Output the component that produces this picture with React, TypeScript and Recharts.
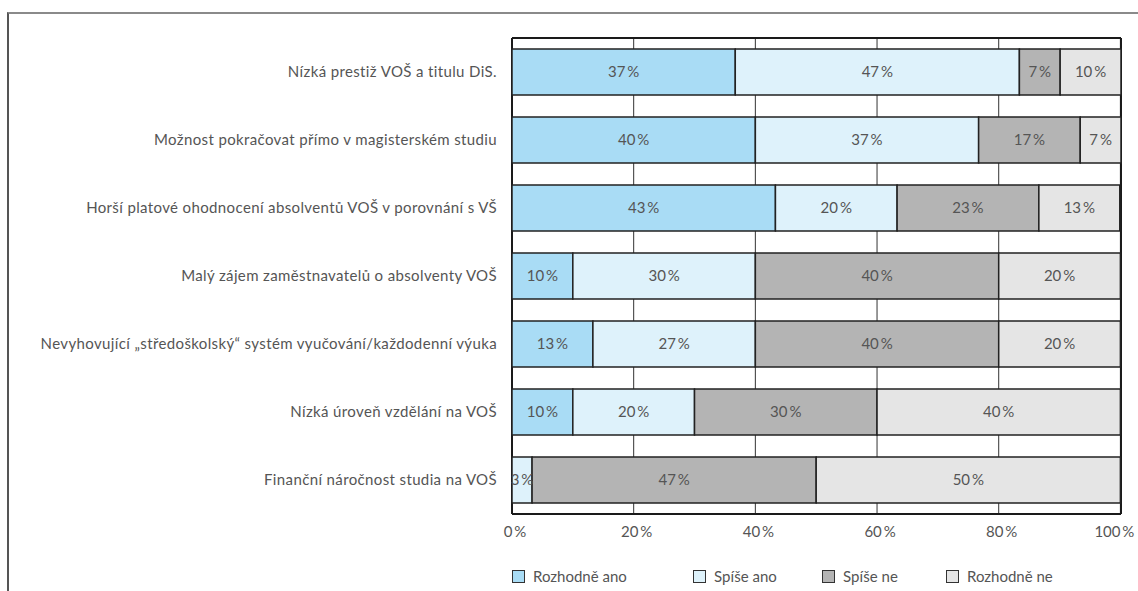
import {
  BarChart,
  Bar,
  XAxis,
  YAxis,
  CartesianGrid,
  LabelList,
  Legend,
} from "recharts";

// survey answers, percent of respondents
const categories = [
  "Nízká prestiž VOŠ a titulu DiS.",
  "Možnost pokračovat přímo v magisterském studiu",
  "Horší platové ohodnocení absolventů VOŠ v porovnání s VŠ",
  "Malý zájem zaměstnavatelů o absolventy VOŠ",
  "Nevyhovující „středoškolský“ systém vyučování/každodenní výuka",
  "Nízká úroveň vzdělání na VOŠ",
  "Finanční náročnost studia na VOŠ",
];

const rozhodneAno = [36.7, 40, 43.3, 10, 13.3, 10, 0];
const spiseAno = [46.7, 36.7, 20, 30, 26.7, 20, 3.3];
const spiseNe = [6.7, 16.7, 23.3, 40, 40, 30, 46.7];
const rozhodneNe = [10, 6.7, 13.3, 20, 20, 40, 50];

const xTicks = [0, 20, 40, 60, 80, 100];

const series = [
  { key: "rozhodneAno", name: "Rozhodně ano", color: "#a9dcf5" },
  { key: "spiseAno", name: "Spíše ano", color: "#def2fb" },
  { key: "spiseNe", name: "Spíše ne", color: "#b4b4b4" },
  { key: "rozhodneNe", name: "Rozhodně ne", color: "#e5e5e5" },
];

const data = categories.map((name, i) => ({
  name,
  rozhodneAno: rozhodneAno[i],
  spiseAno: spiseAno[i],
  spiseNe: spiseNe[i],
  rozhodneNe: rozhodneNe[i],
}));

const FONT = "Lato, 'Open Sans', sans-serif";
const TEXT = "#555";

const fmtPct = (v: number) => (v ? `${Math.round(v)}\u2009%` : "");

const legendWidths = [181, 129, 124, 130];

// x tick: nudge a bit right, last one pulled in so it stays on the page
function XTick(props: any) {
  const { x, y, payload, index } = props;
  const last = index === xTicks.length - 1;
  return (
    <text
      x={x + (last ? -6 : 3)}
      y={y}
      dy="0.71em"
      textAnchor="middle"
      fill={TEXT}
      fontSize={15}
      fontFamily={FONT}
    >
      {`${payload.value}\u2009%`}
    </text>
  );
}

function LegendContent() {
  return (
    <div style={{ position: "relative", height: 0 }}>
      <div
        style={{
          position: "absolute",
          left: 0,
          top: 0,
          display: "flex",
          fontFamily: FONT,
          fontSize: 15,
          color: TEXT,
          whiteSpace: "nowrap",
        }}
      >
        {series.map((s, i) => (
          <div
            key={s.key}
            style={{ width: legendWidths[i], display: "flex", alignItems: "center" }}
          >
            <span
              style={{
                display: "inline-block",
                width: 11,
                height: 11,
                background: s.color,
                border: "1.5px solid #333",
                marginRight: 8,
              }}
            />
            {s.name}
          </div>
        ))}
      </div>
    </div>
  );
}

export default function App() {
  return (
    <div
      style={{
        position: "absolute",
        left: 0,
        top: 0,
        width: 1138,
        height: 591,
        background: "#fff",
      }}
    >
      <div
        style={{
          position: "absolute",
          left: 7,
          top: 12,
          width: 1140,
          height: 600,
          borderTop: "2px solid #8a8a8a",
          borderLeft: "2px solid #555",
        }}
      />
      <BarChart
        width={1138}
        height={591}
        data={data}
        layout="vertical"
        margin={{ top: 38, right: 17, bottom: 47, left: 8 }}
        barSize={46}
        style={{ position: "absolute", left: 0, top: 0 }}
      >
        <CartesianGrid horizontal={false} stroke="#333" strokeWidth={1} />
        <CartesianGrid
          fill="none"
          stroke="#1a1a1a"
          strokeWidth={2}
          horizontalCoordinatesGenerator={({ offset }: any) => [
            offset.top,
            offset.top + offset.height,
          ]}
          verticalCoordinatesGenerator={({ offset }: any) => [
            offset.left,
            offset.left + offset.width,
          ]}
        />
        <XAxis
          type="number"
          domain={[0, 100]}
          ticks={xTicks}
          axisLine={false}
          tickLine={false}
          tickSize={0}
          tickMargin={12}
          height={30}
          interval={0}
          tick={<XTick />}
        />
        <YAxis
          type="category"
          dataKey="name"
          width={504}
          axisLine={false}
          tickLine={false}
          tickSize={0}
          tickMargin={15}
          interval={0}
          tick={{ fill: TEXT, fontSize: 15, fontFamily: FONT, letterSpacing: 0.37 }}
        />
        <Legend
          verticalAlign="bottom"
          content={<LegendContent />}
          wrapperStyle={{ left: 512, top: 567, bottom: "auto", width: 620 }}
        />
        {series.map((s) => (
          <Bar
            key={s.key}
            dataKey={s.key}
            name={s.name}
            stackId="a"
            fill={s.color}
            stroke="#222"
            strokeWidth={1.5}
            isAnimationActive={false}
          >
            <LabelList
              dataKey={s.key}
              position="center"
              formatter={fmtPct as any}
              fill={TEXT}
              fontSize={15}
              fontFamily={FONT}
            />
          </Bar>
        ))}
      </BarChart>
    </div>
  );
}
